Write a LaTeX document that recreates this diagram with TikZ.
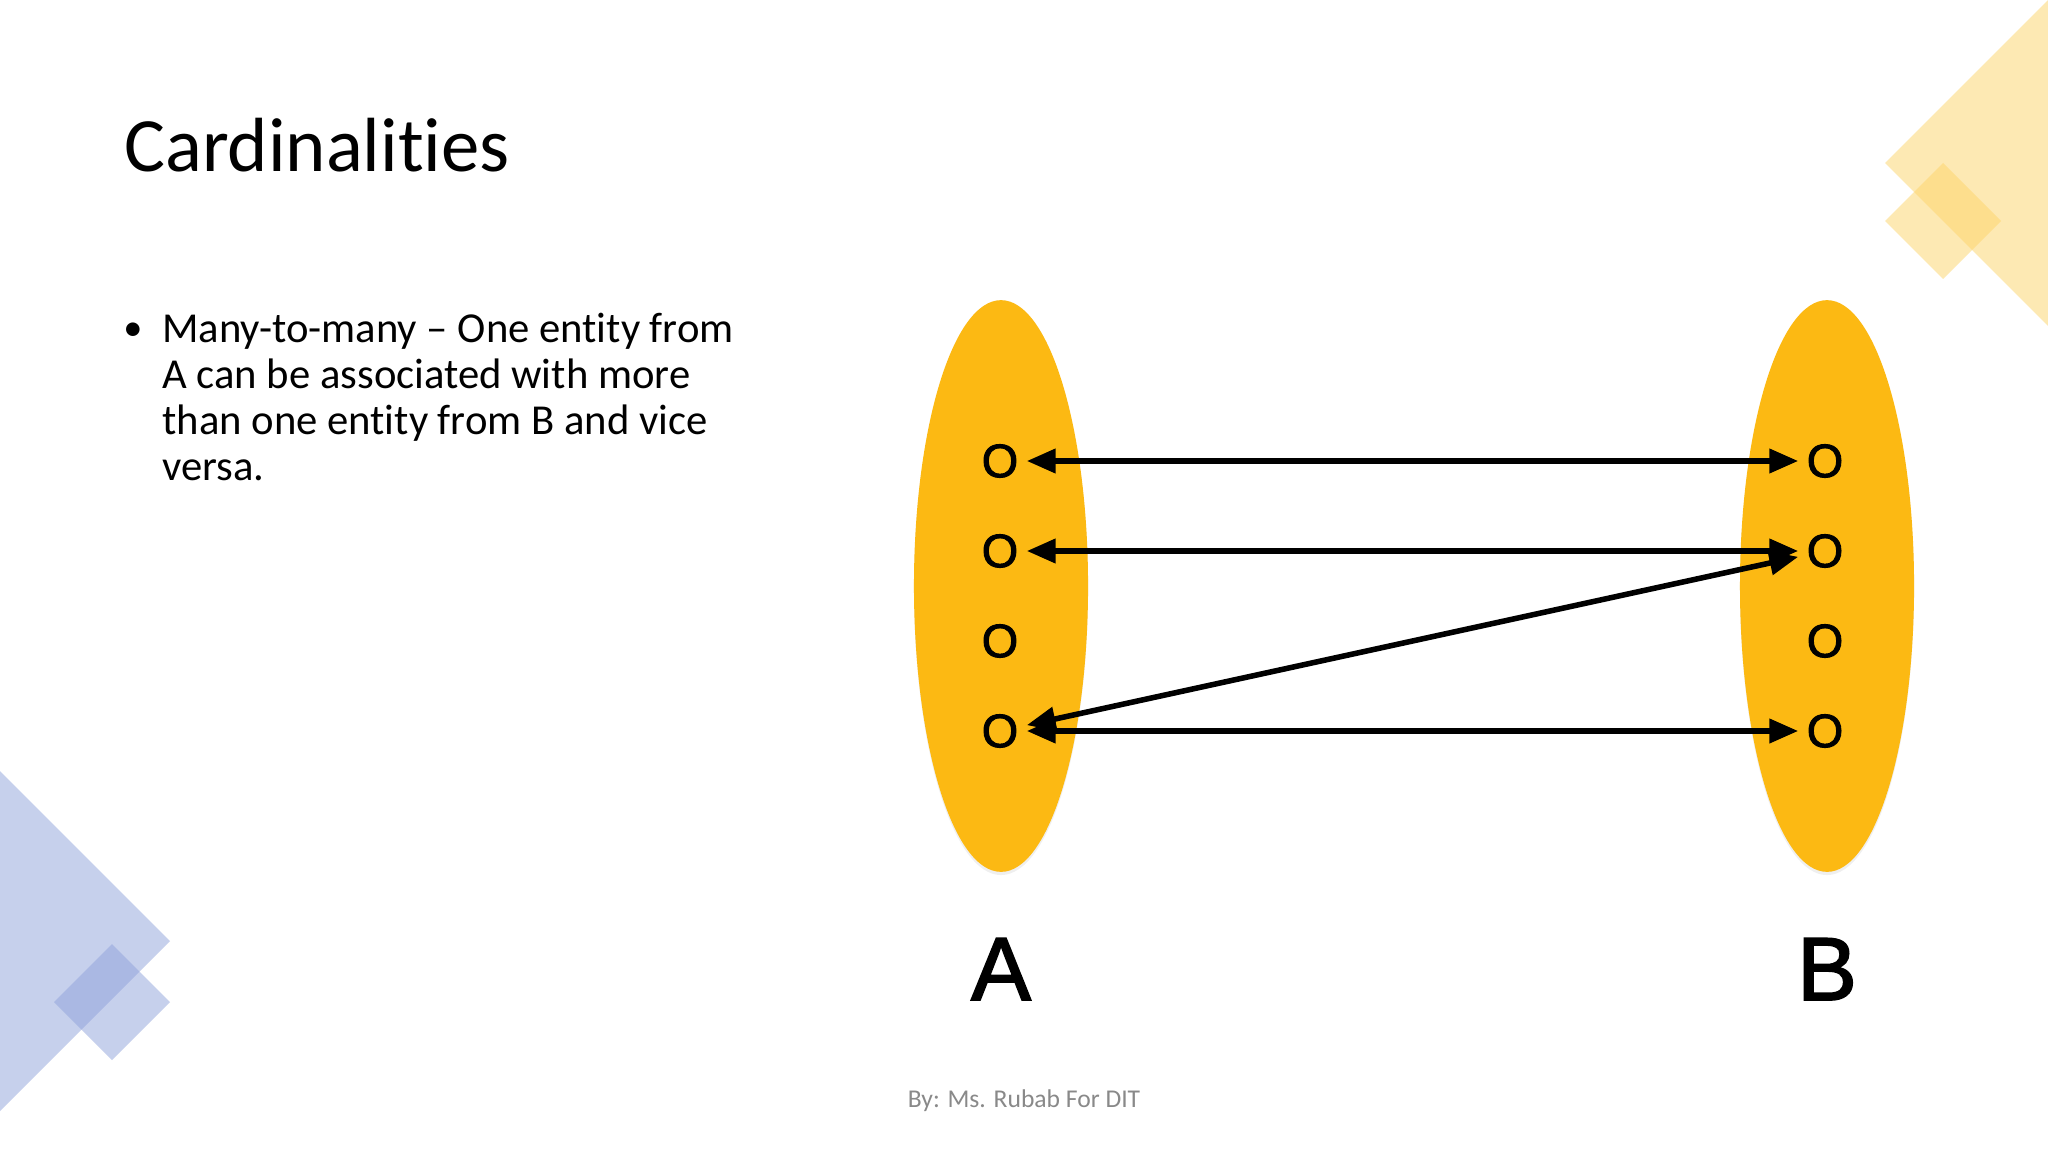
\documentclass[tikz,border=0pt]{standalone}
\usepackage{fontspec}
\setmainfont{Carlito}[Ligatures=NoCommon]
\newfontfamily\arialfont{Liberation Sans}[FakeBold=2]
\usetikzlibrary{arrows.meta,shapes.geometric,shadows}

\definecolor{setorange}{RGB}{252,185,19}
\definecolor{decoblue}{RGB}{143,162,219}
\definecolor{decoyellow}{RGB}{253,212,105}
\definecolor{footgray}{RGB}{137,137,137}

\begin{document}
\begin{tikzpicture}[x=0.46875pt, y=-0.46875pt,
        setnode/.style={ellipse, fill=setorange, minimum width=81.6pt, minimum height=268pt, inner sep=0pt,
            drop shadow={opacity=0.12, shadow xshift=0pt, shadow yshift=-1.5pt}},
        elem/.style={font=\arialfont\fontsize{22}{22}\selectfont, inner sep=0pt, outer sep=4pt},
        rel/.style={{Triangle[length=13.5pt,width=11pt]}-{Triangle[length=13.5pt,width=11pt]}, line width=2.6pt},
        setlabel/.style={font=\arialfont\fontsize{42}{42}\selectfont, inner sep=0pt}]

        \clip (0,0) rectangle (2048,1152);
        \fill[white] (0,0) rectangle (2048,1152);

        % corner decorations
        \fill[decoyellow, opacity=0.5] (1885,163) -- (2100,-52) -- (2315,163) -- (2100,378) -- cycle;
        \fill[decoyellow, opacity=0.5] (1885,221) -- (1943,163) -- (2001,221) -- (1943,279) -- cycle;
        \fill[decoblue, opacity=0.5] (170,941) -- (-100,671) -- (-370,941) -- (-100,1211) -- cycle;
        \fill[decoblue, opacity=0.5] (54,1002) -- (112,944) -- (170,1002) -- (112,1060) -- cycle;

        \node[anchor=base west, inner sep=0pt, font=\fontsize{36}{44}\selectfont] (title) at (124,172) {Cardinalities};
        \node[anchor=base west, inner sep=0pt, font=\fontsize{18}{24}\selectfont] (dot) at (123,341) {•};
        \node[anchor=north west, inner sep=0pt, align=left, font=\fontsize{20}{21.5}\selectfont] (body) at (162,313)
            {Many-to-many – One entity from\\A can be associated with more\\than one entity from B and vice\\versa.};

        \node[setnode] (setA) at (1001,586) {};
        \node[setnode] (setB) at (1827,586) {};

        \node[elem] (a1) at (1000,461) {O};
        \node[elem] (a2) at (1000,551) {O};
        \node[elem] (a3) at (1000,641) {O};
        \node[elem] (a4) at (1000,731) {O};
        \node[elem] (b1) at (1825,461) {O};
        \node[elem] (b2) at (1825,551) {O};
        \node[elem] (b3) at (1825,641) {O};
        \node[elem] (b4) at (1825,731) {O};

        \draw[rel] (a1) -- (b1);
        \draw[rel] (a2) -- (b2);
        \draw[rel] (a4) -- (b4);
        \draw[rel] (a4) -- (b2);

        \node[setlabel, anchor=base] (labA) at (1001,1000) {A};
        \node[setlabel, anchor=base] (labB) at (1827,1000) {B};

        \node[anchor=base, inner sep=0pt, text=footgray, font=\fontsize{12}{14}\selectfont] (foot) at (1024,1107) {By: Ms. Rubab For DIT};

    \end{tikzpicture}
\end{document}
